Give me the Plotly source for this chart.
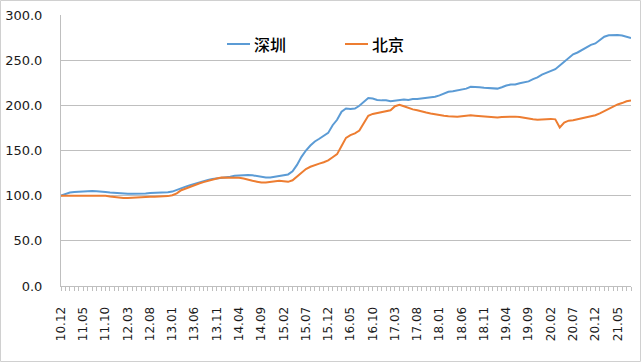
import plotly.graph_objects as go

# Monthly index (2010.12 = 100), 2010.12 .. 2021.07
shenzhen = [
    100.0, 101.5, 103.5, 104.0, 104.5, 105.0, 105.2, 105.2, 105.0, 104.8,
    104.0, 103.5, 103.0, 102.5, 102.2, 102.0, 102.0, 102.0, 102.2, 102.5,
    103.0, 103.0, 103.0, 103.2, 103.8, 104.5, 106.5, 108.5, 110.0, 111.5,
    113.0, 115.0, 116.5, 117.5, 118.5, 119.0, 120.0, 120.5, 121.0, 122.0,
    122.5, 122.8, 122.8, 122.5, 121.5, 120.5, 120.0, 120.0, 120.8, 122.0,
    122.5, 123.5, 127.0, 134.0, 143.0, 150.0, 155.5, 160.0, 163.0, 166.0,
    169.5, 178.0, 184.0, 193.0, 196.5, 196.0, 196.5, 199.5, 204.0, 208.0,
    207.5, 206.0, 205.5, 205.5, 204.5, 205.0, 206.0, 206.5, 206.0, 207.0,
    207.0, 207.5, 208.0, 208.5, 209.5, 211.0, 213.0, 215.0, 215.5, 216.5,
    217.5, 218.5, 220.5, 220.5, 220.0, 219.5, 219.0, 218.5, 218.5, 220.0,
    222.0, 223.0, 223.0, 224.5, 225.5, 226.5, 229.0, 231.0, 234.0, 236.0,
    237.5, 240.0, 244.0, 248.0, 253.0, 256.5, 258.5, 261.5, 264.0, 267.0,
    268.5, 272.0, 276.0, 277.5, 277.8, 277.8, 277.2, 276.0, 274.5,
]
beijing = [
    100.0, 100.0, 100.0, 100.0, 100.0, 100.0, 100.0, 100.0, 100.0, 100.0,
    99.8, 99.0, 98.3, 97.8, 97.5, 97.5, 97.8, 98.5, 98.8, 98.8,
    98.8, 98.8, 98.8, 99.0, 99.5, 100.5, 102.5, 106.0, 108.0, 110.0,
    111.5, 113.5, 115.0, 116.5, 118.0, 119.0, 120.0, 120.0, 120.0, 120.0,
    119.8, 119.0, 117.5, 116.5, 115.5, 114.5, 114.5, 115.0, 116.0, 116.5,
    116.0, 115.3, 117.0, 121.0, 125.5, 129.5, 132.0, 134.0, 135.5, 137.0,
    139.0, 142.5, 146.0, 155.0, 164.0, 167.0, 169.0, 172.0, 180.0, 188.5,
    190.5, 191.5, 192.0, 193.0, 194.5, 199.0, 200.5, 199.0, 197.0, 195.5,
    194.5, 193.0, 192.0, 191.0, 190.0, 189.0, 188.5, 188.0, 187.5, 187.5,
    188.0, 188.5, 189.0, 188.5, 188.0, 187.5, 187.0, 186.5, 186.5, 187.0,
    187.3, 187.5, 187.5, 187.0, 186.0, 185.5, 184.5, 184.0, 184.5, 185.0,
    185.0, 184.5, 175.5, 181.0, 183.0, 183.5, 184.5, 185.5, 186.5, 187.5,
    189.0, 191.0, 193.5, 196.0, 198.5, 201.0, 202.5, 204.5, 205.5,
]
series_names = ["深圳", "北京"]
tick_labels = ["10.12", "11.05", "11.10", "12.03", "12.08", "13.01", "13.06",
               "13.11", "14.04", "14.09", "15.02", "15.07", "15.12", "16.05",
               "16.10", "17.03", "17.08", "18.01", "18.06", "18.11", "19.04",
               "19.09", "20.02", "20.07", "20.12", "21.05"]

# month categories 10.12 .. 21.07
months = []
y, m = 2010, 12
for _ in range(len(shenzhen)):
    months.append(f"{y % 100:02d}.{m:02d}")
    m += 1
    if m > 12:
        m = 1
        y += 1
xs = list(range(len(months)))
ticktext = [mm if mm in tick_labels else "" for mm in months]

BLUE = "#5B9BD5"
ORANGE = "#ED7D31"
LBL = "#1a1a1a"
GRID = "#BFBFBF"

fig = go.Figure()
fig.add_trace(go.Scatter(x=xs, y=shenzhen, mode="lines", name=series_names[0],
                         line=dict(color=BLUE, width=2)))
fig.add_trace(go.Scatter(x=xs, y=beijing, mode="lines", name=series_names[1],
                         line=dict(color=ORANGE, width=2)))

fig.update_layout(
    width=641, height=362,
    margin=dict(l=61, r=10, t=15, b=76),
    paper_bgcolor="white", plot_bgcolor="white",
    showlegend=False,
    font=dict(family="DejaVu Sans", size=12, color=LBL),
)
fig.update_xaxes(
    range=[0, len(xs) - 1], tickmode="array", tickvals=xs, ticktext=ticktext,
    tickangle=-90, ticks="outside", ticklen=4, tickcolor=GRID, tickwidth=1,
    showline=True, linecolor=GRID, linewidth=1, showgrid=False, zeroline=False,
    tickfont=dict(family="DejaVu Sans", size=12, color=LBL),
    ticklabelstandoff=11, automargin=False,
)
fig.update_yaxes(
    range=[0, 300], dtick=50, tickformat=".1f",
    showgrid=True, gridcolor=GRID, gridwidth=1,
    showline=True, linecolor=GRID, linewidth=1, zeroline=False,
    tickfont=dict(family="DejaVu Sans", size=13, color=LBL),
    ticklabelstandoff=15, automargin=False,
)

# manual legend
W, H = 570.0, 271.0
def px(xp):
    return (xp - 61) / W
def py(yp):
    return (286 - yp) / H
legend_items = [(227, 250, 252, BLUE, series_names[0]),
                (345, 368, 370, ORANGE, series_names[1])]
for x0, x1, xt, col, name in legend_items:
    fig.add_shape(type="line", xref="paper", yref="paper",
                  x0=px(x0), x1=px(x1), y0=py(44), y1=py(44),
                  line=dict(color=col, width=2))
    fig.add_annotation(xref="paper", yref="paper", x=px(xt), y=py(44),
                       text=name, showarrow=False, xanchor="left", yanchor="middle",
                       font=dict(family="Noto Sans CJK SC", size=16, color="black",
                                 weight=500))

# chart border
fig.add_shape(type="rect", xref="paper", yref="paper",
              x0=px(0.5), x1=px(640.5), y0=py(361.5), y1=py(0.5),
              line=dict(color="#D0D0D0", width=1), layer="above")

fig.write_html("out.html", config={"displayModeBar": False},
               post_script="document.body.style.margin='0';document.body.style.padding='0';")
